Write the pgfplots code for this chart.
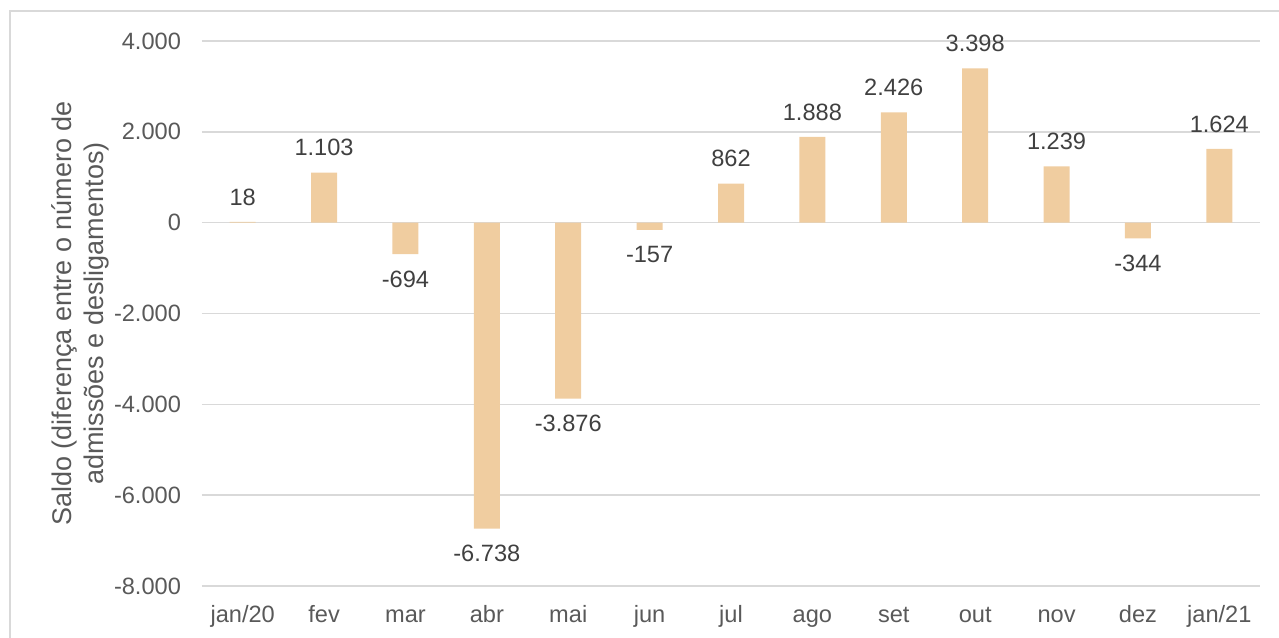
\documentclass[border=0pt]{standalone}
\usepackage{pgfplots}
\pgfplotsset{compat=1.18}
\usepackage{fontspec}
\setmainfont{Liberation Sans}
\definecolor{barc}{RGB}{240,205,160}
\definecolor{gridc}{RGB}{217,217,217}
\definecolor{tickc}{RGB}{89,89,89}
\definecolor{labc}{RGB}{64,64,64}
\begin{document}
\begin{tikzpicture}
\useasboundingbox (-101pt,-25.5pt) rectangle (538.5pt,293pt);
\draw[gridc, line width=0.75pt] (-96pt,-40pt) rectangle (560pt,287.5pt);
\begin{axis}[
  at={(0pt,0pt)}, anchor=south west,
  scale only axis, width=529pt, height=272.5pt,
  xmin=-0.5, xmax=12.5, ymin=-8000, ymax=4000,
  ytick={-8000,-6000,...,4000},
  xtick={0,...,12},
  xticklabels={jan/20,fev,mar,abr,mai,jun,jul,ago,set,out,nov,dez,jan/21},
  ymajorgrids, major grid style={gridc, line width=0.75pt},
  axis line style={draw=none}, tick style={draw=none},
  /pgf/number format/assume math mode=true,
  /pgf/number format/1000 sep={.},
  yticklabel style={font=\fontsize{11.8}{14}\selectfont, text=tickc, xshift=-7pt},
  xticklabel style={font=\fontsize{11.8}{14}\selectfont, text=tickc, text height=8.6pt, text depth=2.5pt, yshift=-2pt},
  ylabel={Saldo (diferença entre o número de\\admissões e desligamentos)},
  every axis y label/.style={at={(axis description cs:0,0.5)}, xshift=-61pt, rotate=90, anchor=center, align=center, font=\fontsize{13.5}{16}\selectfont, text=tickc},
  ybar, bar width=13pt,
  nodes near coords, nodes near coords align=vertical,
  every node near coord/.append style={font=\fontsize{11.8}{14}\selectfont, text=labc, inner sep=8pt},
]
\addplot[fill=barc, draw=none] coordinates {
(0,18) (1,1103) (2,-694) (3,-6738) (4,-3876) (5,-157) (6,862)
(7,1888) (8,2426) (9,3398) (10,1239) (11,-344) (12,1624)};
\end{axis}
\end{tikzpicture}
\end{document}
